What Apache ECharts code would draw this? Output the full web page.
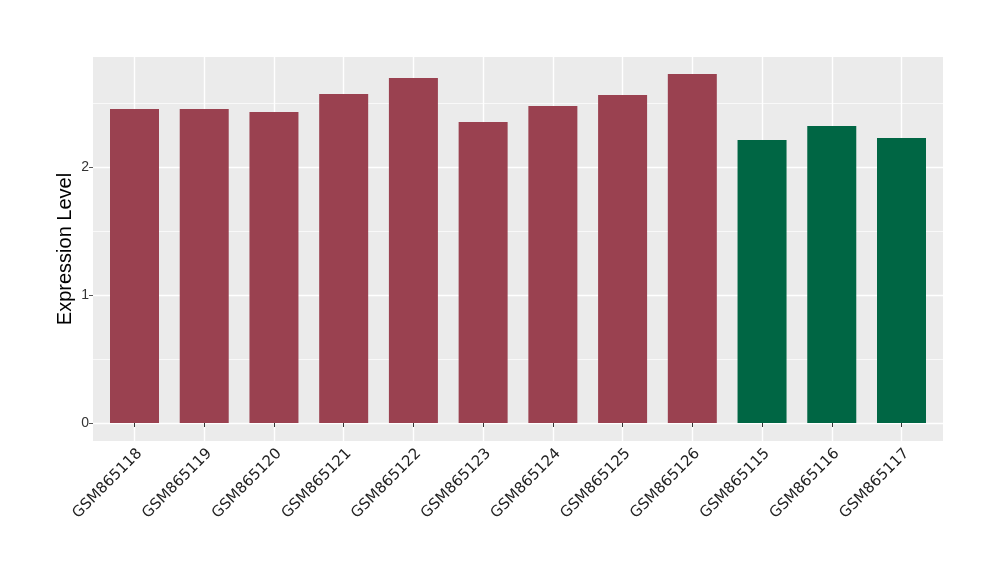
<!DOCTYPE html>
<html>
<head>
<meta charset="utf-8">
<script src="https://cdn.jsdelivr.net/npm/echarts@6/dist/echarts.min.js"></script>
<style>html,body{margin:0;padding:0;background:#fff}#c{width:1000px;height:580px}</style>
</head>
<body>
<div id="c"></div>
<script>
const categories = ['GSM865118','GSM865119','GSM865120','GSM865121','GSM865122','GSM865123','GSM865124','GSM865125','GSM865126','GSM865115','GSM865116','GSM865117'];
const values = [2.453, 2.453, 2.430, 2.570, 2.695, 2.352, 2.477, 2.562, 2.727, 2.211, 2.320, 2.227];
const groups = ['A','A','A','A','A','A','A','A','A','B','B','B'];
const groupColors = {A: '#9A4150', B: '#006644'};
const majorTicks = [0, 1, 2];
const minorTicks = [0.5, 1.5, 2.5];
const yMin = -0.1406, yMax = 2.8594;

const chart = echarts.init(document.getElementById('c'), null, {renderer: 'canvas'});
chart.setOption({
  animation: false,
  backgroundColor: '#fff',
  grid: [
    {left: 93, top: 57, width: 850, height: 384, show: true, backgroundColor: '#EBEBEB', borderWidth: 0},
    {left: 134.5, top: 57, width: 767, height: 384}
  ],
  xAxis: [
    {gridIndex: 0, type: 'value', min: 0, max: 1, show: false},
    {gridIndex: 1, type: 'category', data: categories, boundaryGap: false,
     axisLine: {show: false},
     axisTick: {show: true, length: 4, lineStyle: {color: '#333', width: 1}},
     splitLine: {show: true, lineStyle: {color: '#fff', width: 1.4}},
     axisLabel: {rotate: 45, margin: 5, verticalAlign: 'top', fontSize: 15, color: '#222', fontFamily: '"DejaVu Sans", sans-serif', interval: 0}
    }
  ],
  yAxis: [
    {gridIndex: 0, type: 'value', min: yMin, max: yMax,
     name: 'Expression Level', nameLocation: 'middle', nameGap: 18, nameMoveOverlap: false,
     nameTextStyle: {fontSize: 20, color: '#000', fontFamily: '"Liberation Sans"'},
     axisLine: {show: false},
     axisTick: {show: true, length: 4, lineStyle: {color: '#555'}, customValues: majorTicks},
     axisLabel: {fontSize: 14, color: '#333', fontFamily: '"Liberation Sans"', margin: 4, customValues: majorTicks},
     splitLine: {show: true, lineStyle: {color: '#fff', width: 1.4}}
    },
    {gridIndex: 0, type: 'value', min: yMin, max: yMax, position: 'left',
     axisLine: {show: false},
     axisTick: {show: false, customValues: minorTicks},
     axisLabel: {show: false, customValues: minorTicks},
     splitLine: {show: true, lineStyle: {color: '#fff', width: 0.7}}
    },
    {gridIndex: 1, type: 'value', min: yMin, max: yMax, show: false, splitLine: {show: false}}
  ],
  series: [{
    type: 'bar', xAxisIndex: 1, yAxisIndex: 2, clip: false, barWidth: 49,
    data: values.map((v, i) => ({value: v, itemStyle: {color: groupColors[groups[i]]}}))
  }]
});
</script>
</body>
</html>
